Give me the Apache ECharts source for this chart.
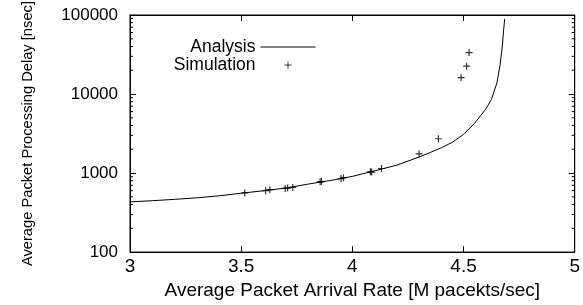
<!DOCTYPE html>
<html>
<head>
<meta charset="utf-8">
<script src="https://cdn.jsdelivr.net/npm/echarts@6/dist/echarts.min.js"></script>
<style>
  html, body { margin: 0; padding: 0; background: #fff; }
  #chart { width: 583px; height: 305px; }
</style>
</head>
<body>
<div id="chart"></div>
<script>
// analysis curve
var analysisX = [3.0, 3.1, 3.2, 3.3, 3.4, 3.5, 3.6, 3.7, 3.8, 3.9, 4.0, 4.1, 4.2, 4.3, 4.35, 4.4, 4.45, 4.5, 4.55, 4.6, 4.625, 4.65, 4.665, 4.675, 4.68, 4.685];
var analysisY = [432, 447, 465, 486, 515, 556, 597, 646, 724, 804, 908, 1067, 1259, 1596, 1820, 2090, 2455, 3090, 4270, 6460, 8510, 13800, 24000, 41700, 63100, 89100];

// simulation points
var simX = [3.516, 3.610, 3.629, 3.698, 3.709, 3.732, 3.855, 3.861, 3.949, 3.960, 4.081, 4.087, 4.131, 4.300, 4.387, 4.489, 4.514, 4.525];
var simY = [560, 599, 616, 640, 645, 658, 774, 781, 852, 875, 1039, 1030, 1143, 1754, 2716, 16100, 22500, 33500];

var minorTicks = [200, 300, 400, 500, 600, 700, 800, 900,
    2000, 3000, 4000, 5000, 6000, 7000, 8000, 9000,
    20000, 30000, 40000, 50000, 60000, 70000, 80000, 90000];

var font = 'Liberation Sans';

function pairs(xs, ys) {
    var out = [];
    for (var i = 0; i < xs.length; i++) out.push([xs[i], ys[i]]);
    return out;
}

var plus = 'path://M0,3.5H7M3.5,0V7';
var plusLegend = 'path://M0,0M14,14M3.5,7H10.5M7,3.5V10.5';
var lineLegend = 'path://M0,0M55,14M0,7H55';

var myChart = echarts.init(document.getElementById('chart'), null, { renderer: 'canvas' });

var option = {
    animation: false,
    backgroundColor: '#fff',
    grid: {
        left: 130, right: 7, top: 15, bottom: 48,
        show: true, borderColor: '#000', borderWidth: 1, backgroundColor: 'transparent'
    },
    legend: {
        orient: 'vertical',
        right: 262,
        top: 33,
        align: 'right',
        itemWidth: 55,
        itemHeight: 14,
        itemGap: 0,
        textStyle: { fontFamily: font, fontSize: 17.5, color: '#000', lineHeight: 14 },
        data: [
            { name: 'Analysis', icon: lineLegend,
              itemStyle: { color: 'transparent', borderColor: '#000', borderWidth: 1 } },
            { name: 'Simulation', icon: plusLegend,
              itemStyle: { color: 'transparent', borderColor: '#000', borderWidth: 1 } }
        ]
    },
    xAxis: [{
        type: 'value', min: 3, max: 5, interval: 0.5,
        name: 'Average Packet Arrival Rate [M pacekts/sec]',
        nameLocation: 'middle', nameGap: 25,
        nameTextStyle: { fontFamily: font, fontSize: 19, color: '#000' },
        axisLine: { show: true, lineStyle: { color: '#000', width: 1 } },
        axisTick: { show: true, inside: true, length: 6, lineStyle: { color: '#000' } },
        axisLabel: { fontFamily: font, fontSize: 19, color: '#000', margin: 5 },
        splitLine: { show: false }
    }, {
        type: 'value', min: 3, max: 5, interval: 0.5, position: 'top',
        axisLine: { show: true, lineStyle: { color: '#000', width: 1 } },
        axisTick: { show: true, inside: true, length: 6, lineStyle: { color: '#000' } },
        axisLabel: { show: false },
        splitLine: { show: false }
    }],
    yAxis: [{
        type: 'log', logBase: 10, min: 100, max: 100000,
        name: 'Average Packet Processing Delay [nsec]',
        nameLocation: 'middle', nameGap: 95,
        nameTextStyle: { fontFamily: font, fontSize: 14.7, color: '#000' },
        axisLine: { show: true, lineStyle: { color: '#000', width: 1 } },
        axisTick: { show: true, inside: true, length: 6, lineStyle: { color: '#000' } },
        axisLabel: {
            fontFamily: font, fontSize: 17, color: '#000', margin: 12,
            formatter: function (v) { return String(Math.round(v)); }
        },
        splitLine: { show: false }
    }, {
        type: 'log', logBase: 10, min: 100, max: 100000, position: 'right',
        axisLine: { show: true, lineStyle: { color: '#000', width: 1 } },
        axisTick: { show: true, inside: true, length: 6, lineStyle: { color: '#000' } },
        axisLabel: { show: false },
        splitLine: { show: false }
    }],
    series: [{
        name: 'Analysis',
        type: 'line',
        data: pairs(analysisX, analysisY),
        smooth: false,
        showSymbol: false,
        symbol: 'none',
        lineStyle: { color: '#000', width: 1 },
        itemStyle: { color: '#000' },
        z: 3
    }, {
        name: 'Simulation',
        type: 'scatter',
        data: pairs(simX, simY),
        symbol: plus,
        symbolSize: 7,
        itemStyle: { color: 'transparent', borderColor: '#000', borderWidth: 1.2 },
        z: 4
    }, {
        // log minor ticks on left and right edges
        type: 'custom',
        silent: true,
        data: minorTicks.map(function (v) { return [3, v]; }),
        renderItem: function (params, api) {
            var cs = params.coordSys;
            var y = api.coord([3, api.value(1)])[1];
            var st = { stroke: '#000', lineWidth: 1 };
            return {
                type: 'group',
                children: [
                    { type: 'line', shape: { x1: cs.x, y1: y, x2: cs.x + 3, y2: y }, style: st },
                    { type: 'line', shape: { x1: cs.x + cs.width, y1: y, x2: cs.x + cs.width - 3, y2: y }, style: st }
                ]
            };
        },
        z: 5
    }]
};

myChart.setOption(option);
</script>
</body>
</html>
